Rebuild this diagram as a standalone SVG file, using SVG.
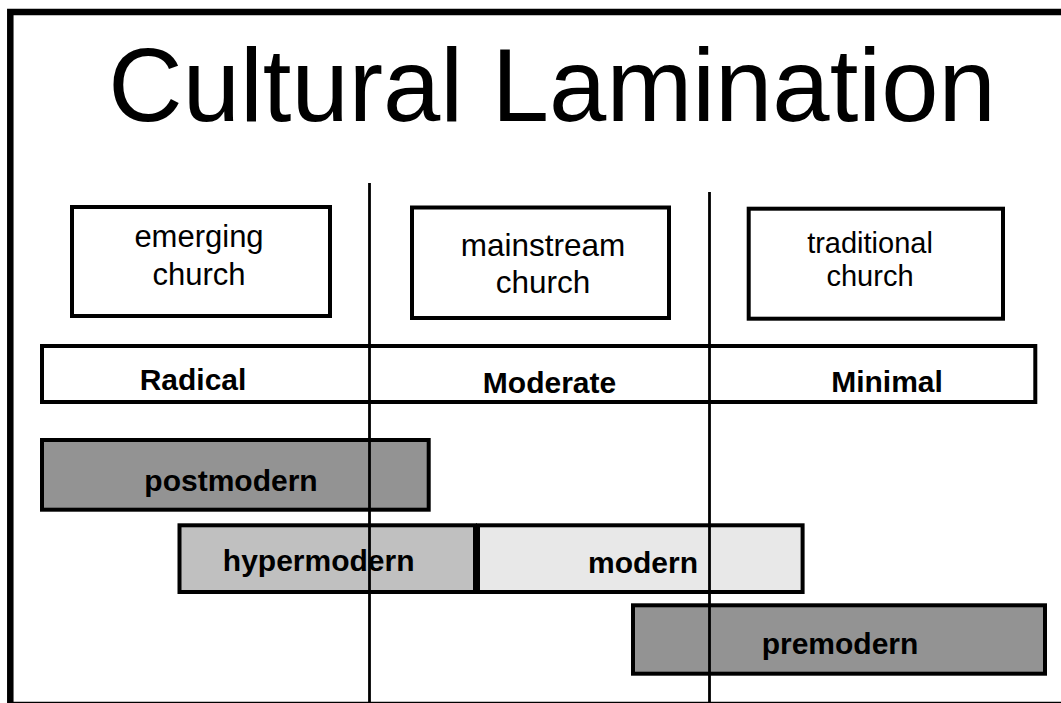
<svg xmlns="http://www.w3.org/2000/svg" width="1061" height="703" viewBox="0 0 1061 703">
<style>
  .frame { fill: none; stroke: #000; stroke-width: 6.5; }
  .box { fill: #fff; stroke: #000; stroke-width: 4; }
  .dark { fill: #939393; stroke: #000; stroke-width: 4; }
  .mid { fill: #c0c0c0; stroke: #000; stroke-width: 4; }
  .light { fill: #e8e8e8; stroke: #000; stroke-width: 4; }
  .title { font-family: "Liberation Sans", Arial, sans-serif; font-size: 103px; text-anchor: middle; fill: #000; }
  .reg { font-family: "Liberation Sans", Arial, sans-serif; text-anchor: middle; fill: #000; }
  .bold { font-family: "Liberation Sans", Arial, sans-serif; font-weight: bold; font-size: 30px; text-anchor: middle; fill: #000; }
  .divider { stroke: #000; stroke-width: 2.8; }
</style>
<rect x="0" y="0" width="1061" height="703" fill="#fff"/>
<rect class="frame" x="10.3" y="12" width="1060" height="693"/>
<text class="title" x="552" y="121">Cultural Lamination</text>

<g id="emerging-church">
  <rect class="box" x="72" y="207" width="258" height="109"/>
  <text class="reg" font-size="31" x="199" y="246.5">emerging</text>
  <text class="reg" font-size="31" x="199" y="285">church</text>
</g>
<g id="mainstream-church">
  <rect class="box" x="412" y="207.5" width="257" height="110.5"/>
  <text class="reg" font-size="31.5" x="543" y="256">mainstream</text>
  <text class="reg" font-size="31.5" x="543" y="292.5">church</text>
</g>
<g id="traditional-church">
  <rect class="box" x="748.7" y="208.7" width="254.3" height="110"/>
  <text class="reg" font-size="29" x="870" y="252.5">traditional</text>
  <text class="reg" font-size="29" x="870" y="286">church</text>
</g>

<g id="scale">
  <rect class="box" x="42" y="346" width="993.3" height="56"/>
  <text class="bold" x="193" y="390">Radical</text>
  <text class="bold" x="549.5" y="392.7">Moderate</text>
  <text class="bold" x="887" y="391.7">Minimal</text>
</g>

<g id="postmodern">
  <rect class="dark" x="42" y="440" width="386.7" height="69.7"/>
  <text class="bold" x="231" y="490.5">postmodern</text>
</g>
<g id="hypermodern">
  <rect class="mid" x="179.5" y="525.3" width="295.5" height="66.7"/>
  <text class="bold" x="318.7" y="570.7">hypermodern</text>
</g>
<g id="modern">
  <rect class="light" x="478" y="525.3" width="324.6" height="66.7"/>
  <text class="bold" x="643" y="572.7">modern</text>
</g>
<g id="premodern">
  <rect class="dark" x="633" y="605.3" width="412" height="68.4"/>
  <text class="bold" x="840" y="653.5">premodern</text>
</g>

<g id="connectors">
  <line class="divider" x1="369.5" y1="183" x2="369.5" y2="703"/>
  <line class="divider" x1="709.5" y1="192" x2="709.5" y2="703"/>
</g>
</svg>
